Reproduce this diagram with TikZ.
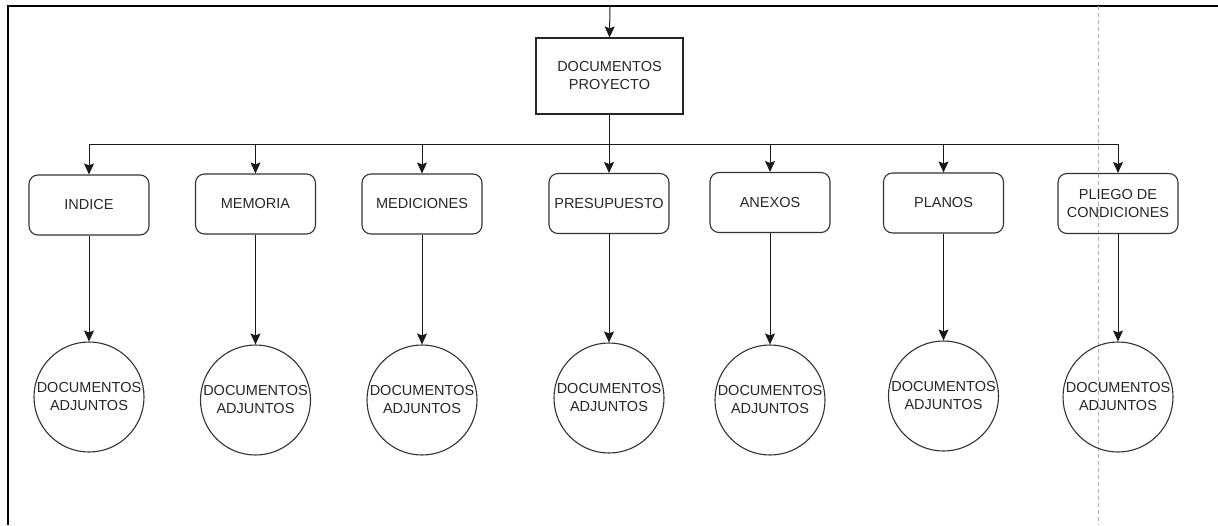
\documentclass[tikz,border=0pt]{standalone}
\usepackage{fontspec}
\setmainfont{Liberation Sans}
\usetikzlibrary{arrows.meta}
\begin{document}
\begin{tikzpicture}[x=1pt,y=-1pt,
  font=\fontsize{14.5}{18}\selectfont,
  every node/.style={text=black!85},
  topbox/.style={draw=black!85,line width=1.1pt,minimum width=147pt,minimum height=76pt,inner sep=0pt,align=center},
  itembox/.style={draw=black!80,line width=1.1pt,rounded corners=9pt,minimum width=120pt,minimum height=60pt,inner sep=0pt,align=center},
  attach/.style={draw=black!80,line width=1.1pt,circle,minimum size=110pt,inner sep=0pt,align=center},
  link/.style={draw=black!90,line width=1pt,-{Stealth[length=11pt,width=10pt,inset=2pt]}},
  frame/.style={draw=black,line width=2pt}]
\useasboundingbox (0,0) rectangle (1218,525);

% outer frame and dashed guide
\draw[frame] (8,525) -- (8,6) -- (1218,6);
\draw[black!30,line width=0.8pt,dash pattern=on 4pt off 3pt] (1098,6) -- (1098,525);

% root
\coordinate (in) at (610,6);
\node[topbox] (root) at (609.5,76) {DOCUMENTOS\\PROYECTO};
\draw[link] (in) -- (root.north);

% sections
\node[itembox] (b1) at (89,205) {INDICE};
\node[itembox] (b2) at (255.5,204) {MEMORIA};
\node[itembox] (b3) at (422,204) {MEDICIONES};
\node[itembox] (b4) at (609,203.5) {PRESUPUESTO};
\node[itembox] (b5) at (770,202.5) {ANEXOS};
\node[itembox] (b6) at (943.5,203) {PLANOS};
\node[itembox] (b7) at (1118,203.5) {PLIEGO DE\\CONDICIONES};

% attached documents
\node[attach] (c1) at (89,397) {DOCUMENTOS\\ADJUNTOS};
\node[attach] (c2) at (255.5,400) {DOCUMENTOS\\ADJUNTOS};
\node[attach] (c3) at (422,400) {DOCUMENTOS\\ADJUNTOS};
\node[attach] (c4) at (609,398) {DOCUMENTOS\\ADJUNTOS};
\node[attach] (c5) at (770,400) {DOCUMENTOS\\ADJUNTOS};
\node[attach] (c6) at (943.5,396) {DOCUMENTOS\\ADJUNTOS};
\node[attach] (c7) at (1118,397) {DOCUMENTOS\\ADJUNTOS};

% bus from root to every section, then section to its attachments
\foreach \i in {1,...,7} {
  \draw[link] (root.south) -- ++(0,30) -| (b\i.north);
  \draw[link] (b\i.south) -- (c\i.north);
}
\end{tikzpicture}
\end{document}
